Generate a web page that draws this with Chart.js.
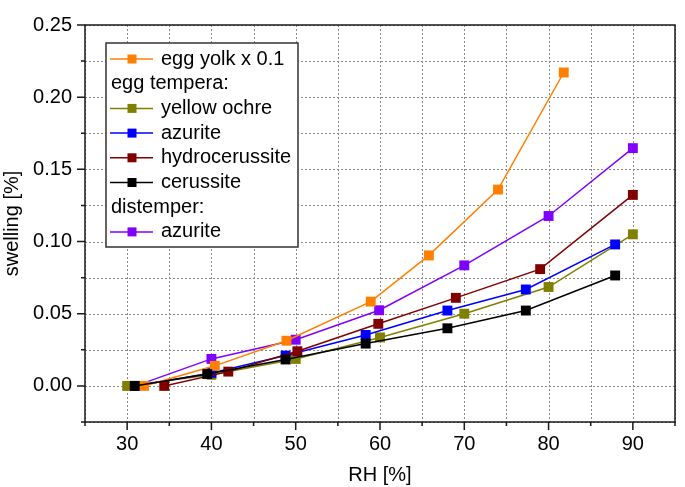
<!DOCTYPE html>
<html>
<head>
<meta charset="utf-8">
<script src="https://cdn.jsdelivr.net/npm/chart.js@4"></script>
<style>
  html, body { margin:0; padding:0; background:#fff; }
</style>
</head>
<body>
<canvas id="c" width="685" height="487"></canvas>
<script>
// ─── Data (RH [%] vs swelling [%]) ───────────────────────────────────────────
const yolkRH      = [32, 40.4, 48.9, 58.9, 65.8, 74.0, 81.8];
const yolkSw      = [0, 0.0139, 0.0313, 0.0584, 0.0904, 0.136, 0.2171];

const ochreRH     = [30, 40, 50, 60, 70, 80, 90];
const ochreSw     = [0, 0.0077, 0.0187, 0.0336, 0.050, 0.0685, 0.105];

const azuriteRH   = [31, 40, 48.8, 58.3, 68, 77.3, 87.9];
const azuriteSw   = [0, 0.009, 0.021, 0.0353, 0.0522, 0.0668, 0.098];

const hydroRH     = [34.4, 42, 50.2, 59.8, 69, 79, 90];
const hydroSw     = [0, 0.0099, 0.024, 0.043, 0.061, 0.0809, 0.1323];

const cerussRH    = [30.9, 39.5, 48.8, 58.3, 68, 77.3, 87.9];
const cerussSw    = [0, 0.0082, 0.0183, 0.0293, 0.0399, 0.0522, 0.0765];

const distAzRH    = [31, 40, 50, 59.9, 70, 80, 90];
const distAzSw    = [0, 0.0187, 0.032, 0.0524, 0.0835, 0.1177, 0.1647];

const seriesLabels = ['egg yolk x 0.1', 'yellow ochre', 'azurite', 'hydrocerussite', 'cerussite', 'azurite'];
const seriesColors = ['#ff8000', '#808000', '#0000ff', '#800000', '#000000', '#8000ff'];
const legendGroups = [
  { head: null,            items: [0] },
  { head: 'egg tempera:',  items: [1, 2, 3, 4] },
  { head: 'distemper:',    items: [5] },
];

const FONT = '"Liberation Sans", Arial, sans-serif';
const pts = (xs, ys) => xs.map((x, i) => ({ x, y: ys[i] }));

const mk = (i, xs, ys, order) => ({
  label: seriesLabels[i],
  data: pts(xs, ys),
  showLine: true,
  borderColor: seriesColors[i],
  backgroundColor: seriesColors[i],
  borderWidth: 1.5,
  pointStyle: 'rect',
  pointRadius: 7,
  pointBorderWidth: 0,
  pointBackgroundColor: seriesColors[i],
  order,
});

// dotted grid at every tick (drawn under the data)
const gridPlugin = {
  id: 'dotGrid',
  beforeDatasetsDraw(chart) {
    const { ctx, chartArea: a, scales: { x, y } } = chart;
    ctx.save();
    ctx.strokeStyle = '#8a8a8a';
    ctx.lineWidth = 1;
    ctx.setLineDash([2, 2]);
    ctx.beginPath();
    x.ticks.forEach(t => {
      const px = Math.round(x.getPixelForValue(t.value)) + 0.5;
      ctx.moveTo(px, a.top); ctx.lineTo(px, a.bottom);
    });
    y.ticks.forEach(t => {
      const py = Math.round(y.getPixelForValue(t.value)) + 0.5;
      ctx.moveTo(a.left, py); ctx.lineTo(a.right, py);
    });
    ctx.stroke();
    ctx.restore();
  }
};

// frame + outward tick marks (major long, minor short)
const framePlugin = {
  id: 'frame',
  afterDraw(chart) {
    const { ctx, chartArea: a, scales: { x, y } } = chart;
    ctx.save();
    ctx.strokeStyle = '#1a1a1a';
    ctx.lineWidth = 1.5;
    ctx.beginPath();
    x.ticks.forEach(t => {
      const px = x.getPixelForValue(t.value);
      const len = Math.round(t.value) % 10 === 0 ? 8 : 4;
      ctx.moveTo(px, a.bottom); ctx.lineTo(px, a.bottom + len);
    });
    y.ticks.forEach(t => {
      const py = y.getPixelForValue(t.value);
      const len = Math.round(t.value * 1000) % 50 === 0 ? 8 : 4;
      ctx.moveTo(a.left, py); ctx.lineTo(a.left - len, py);
    });
    ctx.stroke();
    ctx.strokeRect(a.left, a.top, a.right - a.left, a.bottom - a.top);
    ctx.restore();
  }
};

// boxed legend with group headings
const legendPlugin = {
  id: 'boxLegend',
  afterDraw(chart) {
    const { ctx, chartArea: a } = chart;
    const bx = a.left + 21, by = a.top + 18, bw = 192, bh = 204;
    const rowH = 24.7;
    ctx.save();
    ctx.fillStyle = '#fff';
    ctx.fillRect(bx, by, bw, bh);
    ctx.strokeStyle = '#333';
    ctx.lineWidth = 1.5;
    ctx.strokeRect(bx, by, bw, bh);
    ctx.font = '20px ' + FONT;
    ctx.textBaseline = 'middle';
    let ry = by + 16;
    legendGroups.forEach(g => {
      if (g.head) {
        ctx.fillStyle = '#000';
        ctx.fillText(g.head, bx + 5, ry);
        ry += rowH;
      }
      g.items.forEach(i => {
        ctx.strokeStyle = seriesColors[i];
        ctx.lineWidth = 1.5;
        ctx.beginPath();
        ctx.moveTo(bx + 4, ry); ctx.lineTo(bx + 47, ry);
        ctx.stroke();
        ctx.fillStyle = seriesColors[i];
        ctx.fillRect(bx + 26 - 4.5, ry - 4.5, 9, 9);
        ctx.fillStyle = '#000';
        ctx.fillText(seriesLabels[i], bx + 55, ry);
        ry += rowH;
      });
    });
    ctx.restore();
  }
};

const gridOpts = { display: false, drawTicks: false };

new Chart(document.getElementById('c'), {
  type: 'scatter',
  data: {
    datasets: [
      mk(0, yolkRH, yolkSw, 2),
      mk(1, ochreRH, ochreSw, 6),
      mk(2, azuriteRH, azuriteSw, 5),
      mk(3, hydroRH, hydroSw, 4),
      mk(4, cerussRH, cerussSw, 1),
      mk(5, distAzRH, distAzSw, 3),
    ]
  },
  options: {
    responsive: false,
    animation: false,
    devicePixelRatio: 1,
    layout: { padding: { top: 7, right: 1, left: 0, bottom: 0 } },
    plugins: { legend: { display: false }, tooltip: { enabled: false } },
    scales: {
      x: {
        type: 'linear', min: 25, max: 95,
        grid: gridOpts,
        border: { display: false },
        ticks: {
          stepSize: 5, autoSkip: false, maxRotation: 0, padding: 10,
          color: '#000', font: { family: FONT, size: 20 },
          callback: v => Math.round(v) % 10 === 0 ? String(Math.round(v)) : ''
        },
        title: { display: true, text: 'RH [%]', color: '#000', font: { family: FONT, size: 20 }, padding: { top: 0, bottom: 0 } },
        afterFit: s => { s.height = 65; }
      },
      y: {
        type: 'linear', min: -0.025, max: 0.25,
        grid: gridOpts,
        border: { display: false },
        ticks: {
          stepSize: 0.025, autoSkip: false, padding: 13,
          color: '#000', font: { family: FONT, size: 20 },
          callback: v => { const k = Math.round(v * 1000); return (k % 50 === 0 && k >= 0) ? (k / 1000).toFixed(2) : ''; }
        },
        title: { display: true, text: 'swelling [%]', color: '#000', font: { family: FONT, size: 20 }, padding: { top: 0, bottom: 0 } },
        afterFit: s => { s.width = 85; }
      }
    }
  },
  plugins: [gridPlugin, framePlugin, legendPlugin]
});
</script>
</body>
</html>
